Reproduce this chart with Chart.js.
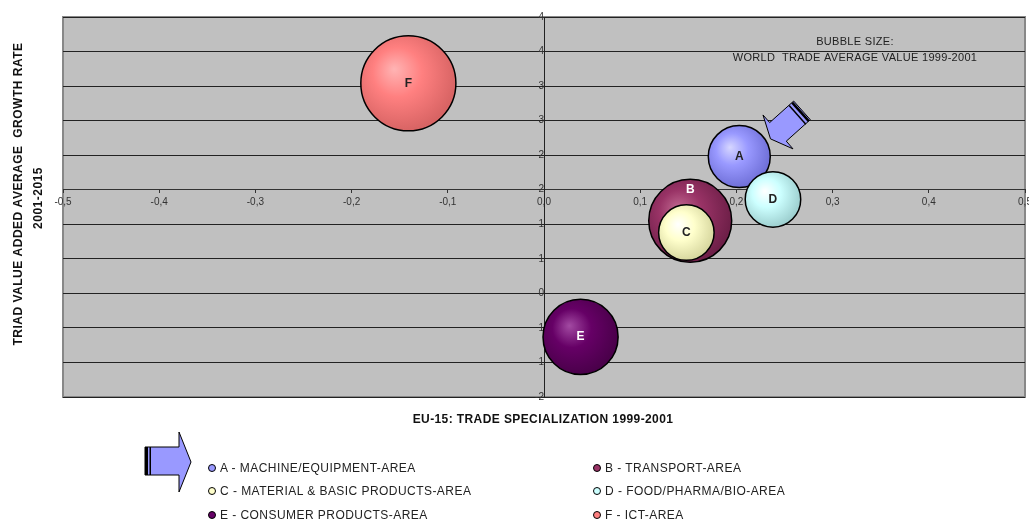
<!DOCTYPE html>
<html>
<head>
<meta charset="utf-8">
<script src="https://cdn.jsdelivr.net/npm/chart.js@4"></script>
<style>
  body { margin: 0; background: #fff; font-family: "Liberation Sans", Arial, sans-serif; }
  #wrap { position: relative; width: 1029px; height: 521px; }
  #legend { position: absolute; left: 208px; top: 456px; display: grid; grid-template-columns: 385px auto; grid-auto-rows: 23.5px; font-size: 12px; letter-spacing: 0.45px; color: #222; }
  #legend div { display: flex; align-items: center; white-space: nowrap; }
  #legend span.dot { display: inline-block; width: 6px; height: 6px; border: 1.5px solid #000; border-radius: 50%; margin-right: 4px; }
</style>
</head>
<body>
<div id="wrap">
  <canvas id="myCanvas" width="1029" height="521"></canvas>
  <div id="legend"></div>
</div>
<script>
// chart values
var categories = ["A - MACHINE/EQUIPMENT-AREA", "B - TRANSPORT-AREA", "C - MATERIAL & BASIC PRODUCTS-AREA",
                  "D - FOOD/PHARMA/BIO-AREA", "E - CONSUMER PRODUCTS-AREA", "F - ICT-AREA"];
var letters = ["A", "B", "C", "D", "E", "F"];
var specialization = [0.203, 0.152, 0.148, 0.238, 0.038, -0.141];   // EU-15 trade specialization
var growthRate = [1.98, 1.05, 0.88, 1.36, -0.63, 3.04];             // triad value added growth
var tradeValue = [9.6, 17.2, 7.7, 7.7, 14.1, 22.6];                 // bubble size
var yTickLabels = ["-2", "1", "1", "0", "1", "1", "2", "2", "3", "3", "4", "4"];

var colors = ["#9999FF", "#993366", "#FFFFCC", "#CCFFFF", "#660066", "#FF8080"];
var lights = ["#d6d6ff", "#c06890", "#ffffff", "#ffffff", "#a24aa2", "#ffb4b4"];
var darks  = ["#7070d8", "#6e1f48", "#d8d8a0", "#9ed0d0", "#4a004a", "#d86464"];
var labelColors = ["#222", "#fff", "#222", "#222", "#fff", "#222"];

function sphere(i) {
  return function(ctx) {
    var chart = ctx.chart;
    if (!chart.chartArea || !ctx.raw) return colors[i];
    var x = chart.scales.x.getPixelForValue(ctx.raw.x);
    var y = chart.scales.y.getPixelForValue(ctx.raw.y);
    var r = ctx.raw.r;
    var g = chart.ctx.createRadialGradient(x - r * 0.3, y - r * 0.3, 0, x - r * 0.15, y - r * 0.15, r * 1.15);
    g.addColorStop(0, lights[i]);
    g.addColorStop(0.45, colors[i]);
    g.addColorStop(1, darks[i]);
    return g;
  };
}

var datasets = [];
for (var i = 0; i < categories.length; i++) {
  datasets.push({
    label: categories[i],
    data: [{ x: specialization[i], y: growthRate[i], r: Math.sqrt(tradeValue[i]) * 10 }],
    backgroundColor: sphere(i),
    borderColor: "#000",
    borderWidth: 1.5,
    order: categories.length - i   // later series painted on top
  });
}

function poly(c, pts, ox, oy) {
  c.beginPath();
  c.moveTo(ox + pts[0][0], oy + pts[0][1]);
  for (var k = 1; k < pts.length; k++) c.lineTo(ox + pts[k][0], oy + pts[k][1]);
  c.closePath();
  c.fill();
  c.stroke();
}

var decor = {
  id: "decor",
  beforeDraw: function(chart) {
    var c = chart.ctx, a = chart.chartArea;
    c.save();
    c.fillStyle = "#C0C0C0";
    c.fillRect(a.left, a.top, a.right - a.left, a.bottom - a.top);
    c.strokeStyle = "#888";
    c.lineWidth = 2;
    c.strokeRect(a.left, a.top, a.right - a.left, a.bottom - a.top);
    c.restore();
  },
  afterDatasetsDraw: function(chart) {
    var c = chart.ctx, a = chart.chartArea;
    c.save();
    // letters in bubbles
    c.font = "bold 12px 'Liberation Sans', Arial, sans-serif";
    c.textAlign = "center";
    c.textBaseline = "middle";
    for (var i = 0; i < letters.length; i++) {
      var el = chart.getDatasetMeta(i).data[0];
      var lift = letters[i] === "B" ? 0.75 : 0;
      c.fillStyle = labelColors[i];
      c.fillText(letters[i], el.x, el.y - el.options.radius * lift);
    }
    // arrow pointing at A
    var A = chart.getDatasetMeta(0).data[0];
    c.fillStyle = "#9999FF";
    c.strokeStyle = "#000";
    c.lineWidth = 1;
    poly(c, [[54.4, -55.5], [30.4, -34], [23.7, -41.6], [31.2, -17.7], [53.7, -7.7], [47, -15.4], [71, -36.9]], A.x, A.y);
    c.lineWidth = 2.5;
    c.beginPath();
    c.moveTo(A.x + 54.4 - 1.5, A.y - 55.5 + 1.5);
    c.lineTo(A.x + 71 - 1.5, A.y - 36.9 + 1.5);
    c.stroke();
    c.lineWidth = 1.5;
    c.beginPath();
    c.moveTo(A.x + 54.4 - 4.5, A.y - 55.5 + 4.5);
    c.lineTo(A.x + 71 - 4.5, A.y - 36.9 + 4.5);
    c.stroke();

    // bubble size note
    c.fillStyle = "#222";
    c.font = "11px 'Liberation Sans', Arial, sans-serif";
    c.letterSpacing = "0.3px";
    c.fillText("BUBBLE SIZE:", a.right - 170, a.top + 25);
    c.fillText("WORLD  TRADE AVERAGE VALUE 1999-2001", a.right - 170, a.top + 41);
    c.restore();
  },
  afterDraw: function(chart) {
    var c = chart.ctx, a = chart.chartArea;
    c.save();
    c.fillStyle = "#111";
    c.textAlign = "center";
    c.textBaseline = "middle";
    c.font = "bold 12px 'Liberation Sans', Arial, sans-serif";
    c.letterSpacing = "0.4px";
    c.fillText("EU-15: TRADE SPECIALIZATION 1999-2001", (a.left + a.right) / 2 - 1, a.bottom + 23);
    c.translate(19, 194);
    c.rotate(-Math.PI / 2);
    c.letterSpacing = "0.5px";
    c.fillText("TRIAD VALUE ADDED AVERAGE  GROWTH RATE", 0, 0);
    c.fillText("2001-2015", -4, 20);
    c.restore();

    // legend arrow
    c.save();
    c.fillStyle = "#9999FF";
    c.strokeStyle = "#000";
    c.lineWidth = 1;
    poly(c, [[0, -14], [34, -14], [34, -29], [46, 1], [34, 31], [34, 14], [0, 14]], 145, 461);
    c.fillStyle = "#000";
    c.fillRect(145, 447, 3, 28);
    c.fillRect(149.5, 447, 1.5, 28);
    c.restore();
  }
};

var chart = new Chart(document.getElementById("myCanvas").getContext("2d"), {
  type: "bubble",
  data: { datasets: datasets },
  plugins: [decor],
  options: {
    responsive: false,
    animation: false,
    events: [],
    layout: { autoPadding: false, padding: { left: 63, top: 17, right: 4, bottom: 124 } },
    plugins: { legend: { display: false }, tooltip: { enabled: false } },
    scales: {
      x: {
        type: "linear",
        position: { y: 1.5 },
        min: -0.5, max: 0.5,
        afterFit: function(s) { s.paddingLeft = 0; s.paddingRight = 0; s.height = 0; },
        grid: { drawOnChartArea: false, drawTicks: true, tickLength: 3, color: "#333" },
        border: { color: "#333", width: 1 },
        ticks: {
          stepSize: 0.1, padding: 4, color: "#333",
          font: { family: "'Liberation Sans', Arial, sans-serif", size: 10 },
          maxRotation: 0, autoSkip: false,
          callback: function(v) { return v.toFixed(1).replace(".", ","); }
        }
      },
      y: {
        type: "linear",
        position: { x: 0 },
        min: -1.5, max: 4,
        afterFit: function(s) { s.paddingTop = 0; s.paddingBottom = 0; s.width = 0; },
        grid: { color: "#222", lineWidth: 1, drawTicks: true, tickLength: 4 },
        border: { color: "#222", width: 1 },
        ticks: {
          stepSize: 0.5, padding: 2, color: "#333",
          font: { family: "'Liberation Sans', Arial, sans-serif", size: 10 },
          autoSkip: false,
          callback: function(v, idx) { return yTickLabels[idx]; }
        }
      }
    }
  }
});

// legend, two columns
var leg = document.getElementById("legend");
for (var j = 0; j < categories.length; j++) {
  var d = document.createElement("div");
  d.innerHTML = '<span class="dot" style="background:' + colors[j] + '"></span>' + categories[j];
  leg.appendChild(d);
}
</script>
</body>
</html>
